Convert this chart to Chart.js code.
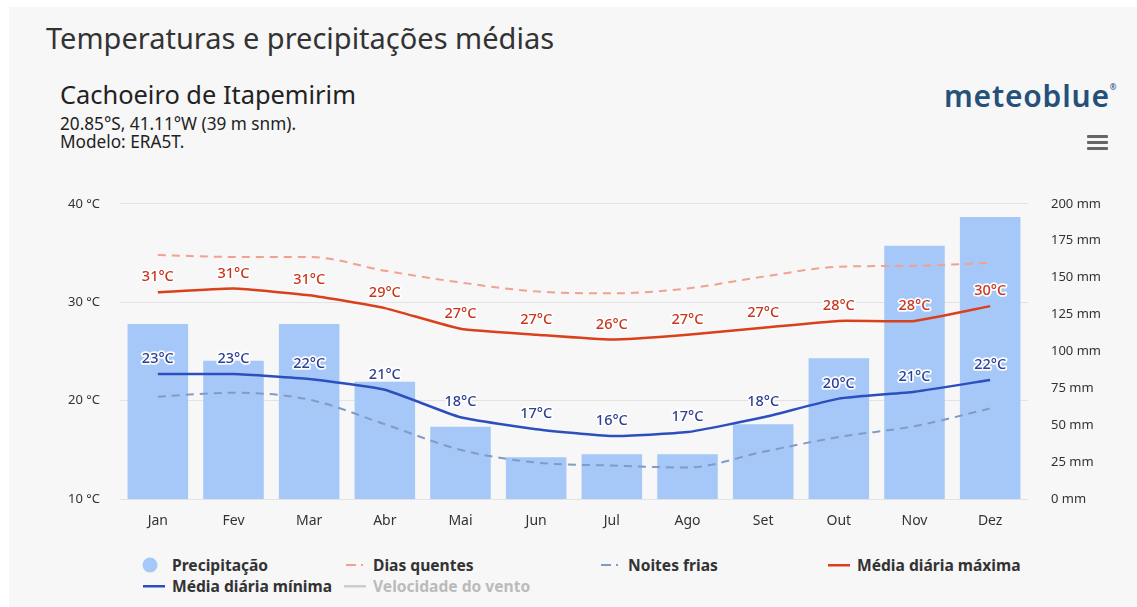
<!DOCTYPE html>
<html>
<head>
<meta charset="utf-8">
<script src="https://cdn.jsdelivr.net/npm/chart.js@4.4.1/dist/chart.umd.min.js"></script>
<style>
  html, body { margin: 0; padding: 0; background: #fff; }
  body { width: 1137px; height: 607px; position: relative; overflow: hidden; font-family: "Noto Sans", sans-serif; color: #333; }
  #panel { position: absolute; left: 9px; top: 7px; right: 0; bottom: 0; background: #f7f7f7; }
  .txt { position: absolute; white-space: nowrap; line-height: 1.2; }
  #title { left: 46px; top: 21px; font-size: 29px; color: #333; }
  #place { left: 60px; top: 79px; font-size: 25.4px; color: #222; }
  #coords { left: 60px; top: 114px; font-size: 17.2px; color: #222; }
  #model { left: 60px; top: 132px; font-size: 17.2px; color: #222; }
  #logo { left: 944px; top: 78px; font-size: 30px; font-weight: 600; color: #24507a; letter-spacing: 0.8px; }
  #logo sup { font-size: 8px; position: relative; top: -6px; }
  #menu { position: absolute; left: 1087px; top: 135px; width: 21px; }
  #menu div { height: 3px; background: #666; margin-bottom: 3px; border-radius: 1px; }
  #wrap { position: absolute; left: 0; top: 173px; width: 1137px; height: 367px; }
  #legend { position: absolute; left: 0; top: 553px; width: 1137px; height: 50px; }
  .item { position: absolute; font-size: 15.6px; font-weight: 700; color: #333; white-space: nowrap; line-height: 20px; }
  .item.off { color: #bbb; }
  .sym { position: absolute; top: 0; height: 20px; }
</style>
</head>
<body>
<div id="panel"></div>
<div class="txt" id="title">Temperaturas e precipitações médias</div>
<div class="txt" id="place">Cachoeiro de Itapemirim</div>
<div class="txt" id="coords">20.85°S, 41.11°W (39 m snm).</div>
<div class="txt" id="model">Modelo: ERA5T.</div>
<div class="txt" id="logo">meteoblue<sup>®</sup></div>
<div id="menu"><div></div><div></div><div></div></div>
<div id="wrap"><canvas id="myChart" width="1137" height="367"></canvas></div>
<div id="legend"></div>
<script>
// monthly values
var months = ['Jan', 'Fev', 'Mar', 'Abr', 'Mai', 'Jun', 'Jul', 'Ago', 'Set', 'Out', 'Nov', 'Dez'];
var precip = [118.6, 93.6, 118.6, 79.5, 49, 28.3, 30.3, 30.3, 50.6, 95.4, 171.5, 191];
var hotDays = [34.8, 34.6, 34.6, 33.2, 32.0, 31.1, 30.9, 31.4, 32.6, 33.6, 33.7, 34.0];
var coldNights = [20.4, 20.8, 20.1, 17.6, 15.0, 13.7, 13.4, 13.2, 14.8, 16.3, 17.4, 19.2];
var meanMax = [31.0, 31.4, 30.7, 29.4, 27.3, 26.7, 26.2, 26.7, 27.4, 28.1, 28.1, 29.6];
var meanMin = [22.7, 22.7, 22.2, 21.1, 18.3, 17.1, 16.4, 16.8, 18.3, 20.2, 20.9, 22.1];
var tempTicks = [10, 40, 10];   // min, max, step
var rainTicks = [0, 200, 25];

Chart.defaults.font.family = "'Noto Sans', sans-serif";
Chart.defaults.color = '#333';

// value labels above the two mean lines
var pointLabels = {
  id: 'pointLabels',
  afterDatasetsDraw: function(chart) {
    var ctx = chart.ctx;
    chart.data.datasets.forEach(function(ds, i) {
      if (!ds.labelColor || !chart.isDatasetVisible(i)) return;
      var meta = chart.getDatasetMeta(i);
      ctx.save();
      ctx.font = "500 14.5px 'Noto Sans'";
      ctx.textAlign = 'center';
      ctx.textBaseline = 'middle';
      ctx.lineJoin = 'round';
      meta.data.forEach(function(pt, j) {
        var t = Math.round(ds.data[j]) + '°C';
        ctx.lineWidth = 3.5;
        ctx.strokeStyle = 'rgba(255,255,255,0.95)';
        ctx.strokeText(t, pt.x, pt.y - 15);
        ctx.fillStyle = ds.labelColor;
        ctx.fillText(t, pt.x, pt.y - 15);
      });
      ctx.restore();
    });
  }
};

var ctx = document.getElementById('myChart');
var myChart = new Chart(ctx, {
  type: 'bar',
  data: {
    labels: months,
    datasets: [{
      label: 'Precipitação',
      data: precip,
      yAxisID: 'y2',
      backgroundColor: '#a6c8f8',
      categoryPercentage: 1,
      barPercentage: 0.8,
      order: 10,
      legendSym: 'circle'
    }, {
      type: 'line',
      label: 'Dias quentes',
      data: hotDays,
      yAxisID: 'y',
      borderColor: '#f2a090',
      borderWidth: 2,
      borderDash: [8, 6],
      pointRadius: 0,
      cubicInterpolationMode: 'monotone',
      order: 4,
      legendSym: 'dash'
    }, {
      type: 'line',
      label: 'Noites frias',
      data: coldNights,
      yAxisID: 'y',
      borderColor: '#7f9cc6',
      borderWidth: 2,
      borderDash: [8, 6],
      pointRadius: 0,
      cubicInterpolationMode: 'monotone',
      order: 3,
      legendSym: 'dash'
    }, {
      type: 'line',
      label: 'Média diária máxima',
      data: meanMax,
      yAxisID: 'y',
      borderColor: '#d9401c',
      borderWidth: 2.5,
      pointRadius: 0,
      tension: 0.15,
      order: 1,
      labelColor: '#c9361c',
      legendSym: 'line'
    }, {
      type: 'line',
      label: 'Média diária mínima',
      data: meanMin,
      yAxisID: 'y',
      borderColor: '#2c4fbd',
      borderWidth: 2.5,
      pointRadius: 0,
      tension: 0.15,
      order: 2,
      labelColor: '#2e3f94',
      legendSym: 'line'
    }, {
      type: 'line',
      label: 'Velocidade do vento',
      data: [],
      yAxisID: 'y',
      borderColor: '#aaaaaa',
      hidden: true,
      legendSym: 'line'
    }]
  },
  options: {
    responsive: false,
    animation: false,
    layout: { padding: { top: 0, left: 0, right: 0, bottom: 0 } },
    plugins: {
      legend: { display: false },
      tooltip: { enabled: false }
    },
    scales: {
      x: {
        grid: { display: false },
        border: { display: false },
        ticks: { font: { size: 14 }, color: '#333', padding: 6 },
        afterFit: function(s) { s.height = 41; }
      },
      y: {
        position: 'left',
        min: tempTicks[0], max: tempTicks[1],
        ticks: { stepSize: tempTicks[2], padding: 20, font: { size: 13 }, color: '#333',
                 callback: function(v) { return v + ' °C'; } },
        grid: { color: '#e3e3e3', drawTicks: false },
        border: { display: false },
        afterFit: function(s) { s.width = 120; }
      },
      y2: {
        position: 'right',
        min: rainTicks[0], max: rainTicks[1],
        ticks: { stepSize: rainTicks[2], padding: 23, font: { size: 13 }, color: '#333',
                 callback: function(v) { return v + ' mm'; } },
        grid: { display: false, drawTicks: false },
        border: { display: false },
        afterFit: function(s) { s.width = 109; }
      }
    }
  },
  plugins: [pointLabels]
});

// html legend built from the chart's datasets
var legendText = [172, 373, 628, 857];
var legendTop = [2, 23];
var box = document.getElementById('legend');
myChart.data.datasets.forEach(function(ds, i) {
  var col = i % 4, row = Math.floor(i / 4);
  var el = document.createElement('div');
  el.className = 'item' + (ds.hidden ? ' off' : '');
  el.style.left = legendText[col] + 'px';
  el.style.top = legendTop[row] + 'px';
  el.textContent = ds.label;
  var c = document.createElement('canvas');
  c.width = 28; c.height = 20;
  c.className = 'sym';
  c.style.left = '-31px';
  var g = c.getContext('2d');
  var col2 = ds.hidden ? '#cccccc' : (ds.legendSym === 'circle' ? ds.backgroundColor : ds.borderColor);
  g.fillStyle = col2;
  if (ds.legendSym === 'circle') {
    g.beginPath(); g.arc(9, 10, 7.5, 0, Math.PI * 2); g.fill();
  } else if (ds.legendSym === 'dash') {
    g.fillRect(4, 9, 10, 2); g.fillRect(19, 9, 2, 2);
  } else {
    g.fillRect(2, 9, 22, 2.5);
  }
  el.appendChild(c);
  box.appendChild(el);
});
</script>
</body>
</html>
